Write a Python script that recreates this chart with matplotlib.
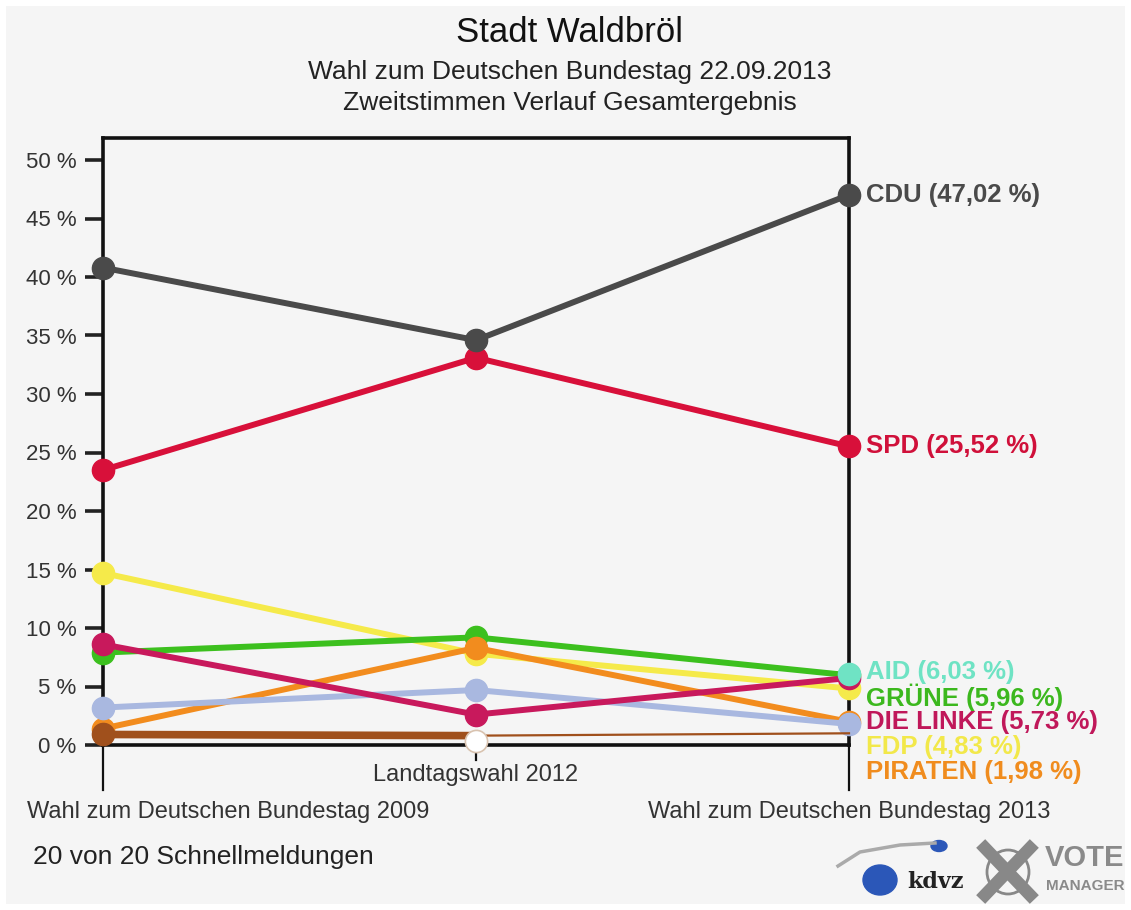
import matplotlib
matplotlib.use("Agg")
import matplotlib.pyplot as plt
from matplotlib.patches import Rectangle, Ellipse

plt.rcParams['font.family'] = ['Liberation Sans', 'DejaVu Sans']

# ---------------- data ----------------
elections = ["Wahl zum Deutschen Bundestag 2009", "Landtagswahl 2012",
             "Wahl zum Deutschen Bundestag 2013"]
yticks = [0, 5, 10, 15, 20, 25, 30, 35, 40, 45, 50]
ytick_labels = [f"{v} %" for v in yticks]

cdu = [40.8, 34.6, 47.02]
spd = [23.5, 33.1, 25.52]
fdp = [14.7, 7.8, 4.83]
gruene = [7.9, 9.2, 5.96]
linke = [8.6, 2.6, 5.73]
piraten = [1.4, 8.3, 1.98]
others = [3.2, 4.7, 1.8]
brown = [0.9, 0.8, 1.0]
white_2012 = 0.3
afd_2013 = 6.03

labels_right = [
    ("CDU (47,02 %)", "#4a4a4a", 47.02),
    ("SPD (25,52 %)", "#d0103a", 25.52),
]
labels_small = [
    ("AID (6,03 %)", "#6fe3c4"),
    ("GRÜNE (5,96 %)", "#3cb81e"),
    ("DIE LINKE (5,73 %)", "#c0185a"),
    ("FDP (4,83 %)", "#f2e84a"),
    ("PIRATEN (1,98 %)", "#f08c1e"),
]

# ---------------- figure ----------------
W, H = 1131, 910
fig = plt.figure(figsize=(W / 100, H / 100), dpi=100, facecolor="white")
bg = "#f5f5f5"
fig.patches.append(Rectangle((6 / W, 6 / H), 1 - 12 / W, 1 - 12 / H,
                             transform=fig.transFigure, facecolor=bg,
                             edgecolor="none", zorder=-10))

px_per = (745 - 160) / 50.0
ytop = (745 - 138) / px_per
ax = fig.add_axes([103 / W, (H - 745) / H, (849 - 103) / W, (745 - 138) / H])
ax.set_facecolor(bg)
ax.set_xlim(0, 2)
ax.set_ylim(0, ytop)
for s in ax.spines.values():
    s.set_color("#111111")
    s.set_linewidth(2.6)

ax.set_yticks(yticks)
ax.set_yticklabels(ytick_labels, fontsize=16, color="#333333")
ax.tick_params(axis="y", length=13, width=2.6, color="#222222", pad=6)
ax.set_xticks([])

x = [0, 1, 2]
lw = 4.3
ms = 16

def series(vals, color, z, mec=None):
    ax.plot(x, vals, color=color, lw=lw, marker="o", ms=ms,
            mec=mec or color, mfc=color, zorder=z, clip_on=False,
            solid_capstyle="round")

series(fdp, "#f5ea4a", 3)
series(gruene, "#3cc01e", 4)
series(piraten, "#f28c1e", 5)
series(others, "#a9b8e0", 6)
series(linke, "#c8195c", 7)
series(spd, "#d8103a", 8)
series(cdu, "#4a4a4a", 9)

# brown line: thick segment then thin segment
ax.plot(x[:2], brown[:2], color="#a0501c", lw=5.5, zorder=8, clip_on=False,
        solid_capstyle="butt")
ax.plot(x[1:], brown[1:], color="#a0501c", lw=1.6, zorder=8, clip_on=False)
ax.plot([0], [brown[0]], marker="o", ms=ms, color="#a0501c", zorder=8,
        clip_on=False)
ax.plot([1], [white_2012], marker="o", ms=ms, mfc="white", mec="#d9c3b0",
        mew=1.2, zorder=10, clip_on=False)
ax.plot([2], [afd_2013], marker="o", ms=ms, color="#6fe3c4", zorder=10,
        clip_on=False)

# extended vertical lines beneath axis
ybot = -(790 - 745) / px_per
ymid = -(760 - 745) / px_per
ax.plot([0, 0], [0, ybot], color="#111111", lw=1.6, clip_on=False, zorder=1)
ax.plot([2, 2], [0, ybot], color="#111111", lw=1.6, clip_on=False, zorder=1)
ax.plot([1, 1], [0, ymid], color="#111111", lw=1.6, clip_on=False, zorder=1)

# x labels
def fy(py):
    return 1 - py / H

fig.text(27 / W, fy(812), elections[0], fontsize=17, color="#333333",
         ha="left", va="center")
fig.text(476 / W, fy(775), elections[1], fontsize=17, color="#333333",
         ha="center", va="center")
fig.text(849 / W, fy(812), elections[2], fontsize=17, color="#333333",
         ha="center", va="center")

# right labels
for txt, col, v in labels_right:
    fig.text(866 / W, fy(745 - v * px_per), txt, fontsize=18.5, color=col,
             fontweight="bold", ha="left", va="center")
for i, (txt, col) in enumerate(labels_small):
    fig.text(866 / W, fy(672 + 25 * i), txt, fontsize=18.5, color=col,
             fontweight="bold", ha="left", va="center")

# titles
fig.text(570 / W, fy(33), "Stadt Waldbröl", fontsize=25, color="#111111",
         ha="center", va="center")
fig.text(570 / W, fy(72), "Wahl zum Deutschen Bundestag 22.09.2013",
         fontsize=19, color="#222222", ha="center", va="center")
fig.text(570 / W, fy(103), "Zweitstimmen Verlauf Gesamtergebnis",
         fontsize=19, color="#222222", ha="center", va="center")

fig.text(33 / W, fy(857), "20 von 20 Schnellmeldungen", fontsize=19,
         color="#222222", ha="left", va="center")

# logos (approximation)
lax = fig.add_axes([820 / W, (H - 905) / H, 311 / W, 85 / H])
lax.set_xlim(820, 1131)
lax.set_ylim(905, 820)
lax.axis("off")
lax.plot([838, 860, 900, 935], [866, 852, 845, 843], color="#aaaaaa", lw=2.5)
lax.add_patch(Ellipse((880, 880), 34, 30, color="#2b57b8"))
lax.add_patch(Ellipse((939, 846), 16, 11, color="#2b57b8"))
lax.text(935, 882, "kdvz", fontsize=16, fontweight="bold", color="#222222",
         ha="center", va="center", family="DejaVu Serif")
lax.plot([985, 1030], [848, 895], color="#888888", lw=9)
lax.plot([1030, 985], [848, 895], color="#888888", lw=9)
lax.add_patch(Ellipse((1008, 872), 42, 44, fill=False, ec="#888888", lw=2))
lax.text(1085, 858, "VOTE", fontsize=21, fontweight="bold", color="#8a8a8a",
         ha="center", va="center")
lax.text(1085, 886, "MANAGER", fontsize=11, fontweight="bold",
         color="#8a8a8a", ha="center", va="center")

fig.savefig("out.png", dpi=100, facecolor="white")
